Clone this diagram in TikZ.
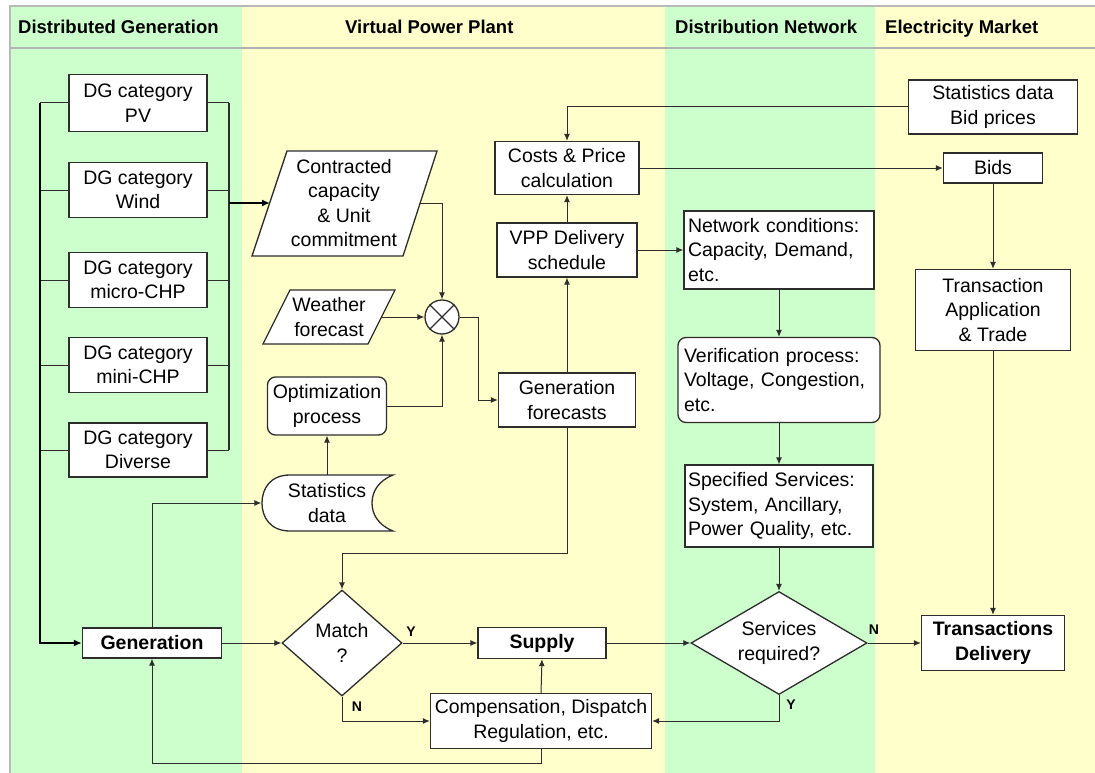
\documentclass[tikz,border=0pt]{standalone}
\usepackage{fontspec}
\setmainfont{Liberation Sans}
\usetikzlibrary{arrows.meta,shapes.geometric}
\definecolor{lgreen}{RGB}{204,255,204}
\definecolor{lyellow}{RGB}{255,255,204}
\definecolor{edge}{RGB}{45,45,45}
\newcommand{\bsz}{\fontsize{19.5}{24.5}\selectfont}
\newcommand{\hsz}{\fontsize{18.5}{22}\selectfont\bfseries}
\newcommand{\lsz}{\fontsize{14}{16}\selectfont\bfseries}
\begin{document}
\begin{tikzpicture}[x=1pt,y=-1pt,
  box/.style={draw=edge, line width=1.3pt, fill=white, align=center, inner sep=2pt, font=\bsz},
  lbox/.style={box, align=left, inner xsep=4pt},
  rbox/.style={box, rounded corners=8pt},
  dia/.style={box, diamond, inner sep=0pt},
  conn/.style={draw=edge, line width=1pt},
  arr/.style={conn, -{Latex[length=7pt,width=6pt]}},
  busline/.style={draw=black, line width=2.4pt},
  busarr/.style={busline, -{Latex[length=8pt,width=7pt]}},
  hdr/.style={anchor=base west, font=\hsz, inner sep=0pt},
  yn/.style={font=\lsz, inner sep=0pt}]
\useasboundingbox (0,0) rectangle (1095,773);
% background
\fill[white] (0,0) rectangle (1095,773);
\fill[lgreen] (10,6) rectangle (242,773);
\fill[lyellow] (242,6) rectangle (665,773);
\fill[lgreen] (665,6) rectangle (875,773);
\fill[lyellow] (875,6) rectangle (1095,773);
\draw[gray!55, line width=1.5pt] (10,773) -- (10,6) -- (1095,6);
\draw[gray!60, line width=2pt] (10,48) -- (1095,48);
% headers
\node[hdr] (h1) at (18,33.5) {Distributed Generation};
\node[hdr] (h2) at (345,33.5) {Virtual Power Plant};
\node[hdr] (h3) at (675,33.5) {Distribution Network};
\node[hdr] (h4) at (885,33.5) {Electricity Market};
% bus coordinates
\coordinate (lb) at (40,0);
\coordinate (rb) at (229,0);
% DG boxes
\node[box, minimum width=138, minimum height=57] (pv) at (138,103) {DG category\\PV};
\node[box, minimum width=138, minimum height=55] (wind) at (138,190) {DG category\\Wind};
\node[box, minimum width=138, minimum height=55] (mchp) at (138,280) {DG category\\micro-CHP};
\node[box, minimum width=138, minimum height=55] (nchp) at (138,365) {DG category\\mini-CHP};
\node[box, minimum width=138, minimum height=54] (div) at (138,450) {DG category\\Diverse};
\node[box, minimum width=139, minimum height=30, font=\bsz\bfseries] (gen) at (152,643) {Generation};
% VPP
\draw[box] (287,151) -- (437,151) -- (403,256) -- (252,256) -- cycle;
\node[align=center, font=\bsz, inner sep=0pt] (cc) at (344,203) {Contracted\\capacity\\\& Unit\\commitment};
\coordinate (ccL) at (270,203);
\coordinate (ccR) at (420,203);
\draw[box] (290,290) -- (395,290) -- (368,344) -- (263,344) -- cycle;
\node[align=center, font=\bsz, inner sep=0pt] (wf) at (329,317) {Weather\\forecast};
\coordinate (wfR) at (381,317);
\node[draw=edge, line width=1.3pt, fill=white, circle, minimum size=34, inner sep=0pt] (mix) at (442,317) {};
\draw[edge, line width=1.3pt] (mix.north west) -- (mix.south east) (mix.north east) -- (mix.south west);
\node[rbox, minimum width=119, minimum height=58] (opt) at (327,406) {Optimization\\process};
\node[minimum width=131, minimum height=56, align=center, font=\bsz, inner sep=0pt] (stat) at (327,503) {};
\draw[box] (290,475) -- (393,475) .. controls (378,481) and (372,492) .. (372,503)
  .. controls (372,514) and (378,525) .. (393,531) -- (290,531)
  .. controls (270,531) and (262,517) .. (262,503) .. controls (262,489) and (270,475) .. (290,475) -- cycle;
\node[align=center, font=\bsz, inner sep=0pt] at (stat.center) {Statistics\\data};
\node[box, minimum width=144, minimum height=53] (costs) at (567,168) {Costs \& Price\\calculation};
\node[box, minimum width=140, minimum height=54] (vpp) at (567,250) {VPP Delivery\\schedule};
\node[box, minimum width=137, minimum height=54] (gfc) at (567,400) {Generation\\forecasts};
\node[dia, minimum width=120, minimum height=106, aspect=1.13] (match) at (342,643) {Match\\?};
\node[box, minimum width=128, minimum height=31, font=\bsz\bfseries] (sup) at (542,643) {Supply};
\node[box, minimum width=221, minimum height=55] (comp) at (541,721) {Compensation, Dispatch\\Regulation, etc.};
% Distribution network
\node[lbox, minimum width=190, minimum height=78, text width=182] (netc) at (779,250) {Network conditions:\\Capacity, Demand,\\etc.};
\node[lbox, rounded corners=8pt, minimum width=202, minimum height=85, text width=190, inner xsep=6pt] (ver) at (779,380) {Verification process:\\Voltage, Congestion,\\etc.};
\node[lbox, minimum width=188, minimum height=82, text width=182, inner xsep=3pt] (spec) at (779,506) {Specified Services:\\System, Ancillary,\\Power Quality, etc.};
\node[dia, minimum width=176, minimum height=103, aspect=1.71] (serv) at (779,643) {Services\\required?};
% Electricity market
\node[box, minimum width=169, minimum height=54] (sbp) at (993,107) {Statistics data\\Bid prices};
\node[box, minimum width=99, minimum height=30] (bids) at (993,168) {Bids};
\node[box, minimum width=155, minimum height=81] (tapp) at (993,310) {Transaction\\Application\\\& Trade};
\node[box, minimum width=143, minimum height=55, font=\bsz\bfseries] (tdel) at (993,643) {Transactions\\Delivery};
% DG buses
\foreach \n in {pv,wind,mchp,nchp,div} {
  \draw[conn] (\n.west) -- (\n.west -| lb);
  \draw[conn] (\n.east) -- (\n.east -| rb);
}
\draw[busarr] (pv.west -| lb) |- (gen.west);
\draw[conn, line width=1.4pt] (pv.east -| rb) -- (div.east -| rb);
\draw[busarr] (ccL -| rb) -- (ccL);
% VPP connectors
\draw[arr] (ccR) -| (mix.north);
\draw[arr] (wfR) -- (mix.west);
\draw[arr] (opt.east) -| (mix.south);
\draw[arr] (mix.east) -- ++(19,0) |- (gfc.west);
\draw[arr] (gfc.north) -- (vpp.south);
\draw[arr] (vpp.north) -- (costs.south);
\draw[arr] (vpp.east) -- (netc.west);
\draw[arr] (costs.east) -- (bids.west);
\draw[arr] (sbp.west) -| (costs.north);
\draw[arr] (bids.south) -- (tapp.north);
\draw[arr] (tapp.south) -- (tdel.north);
\draw[arr] (netc.south) -- (ver.north);
\draw[arr] (ver.south) -- (spec.north);
\draw[arr] (spec.south) -- (serv.north);
\draw[arr] (serv.east) -- (tdel.west);
\draw[arr] (serv.south) |- (comp.east);
\draw[arr] (comp.north) -- (sup.south);
\draw[arr] (sup.east) -- (serv.west);
\draw[arr] (match.east) -- (sup.west);
\draw[arr] (match.south) |- (comp.west);
\draw[arr] (comp.south) -- ++(0,14) -| (gen.south);
\draw[arr] (gen.east) -- (match.west);
\draw[arr] (gen.north) |- (stat.west);
\draw[arr] (stat.north) -- (opt.south);
\draw[arr] (gfc.south) -- ++(0,126) -| (match.north);
% labels
\node[yn] (ly1) at (411,632) {Y};
\node[yn] (ln1) at (357,707) {N};
\node[yn] (ln2) at (874,630) {N};
\node[yn] (ly2) at (791,705) {Y};
\end{tikzpicture}
\end{document}
